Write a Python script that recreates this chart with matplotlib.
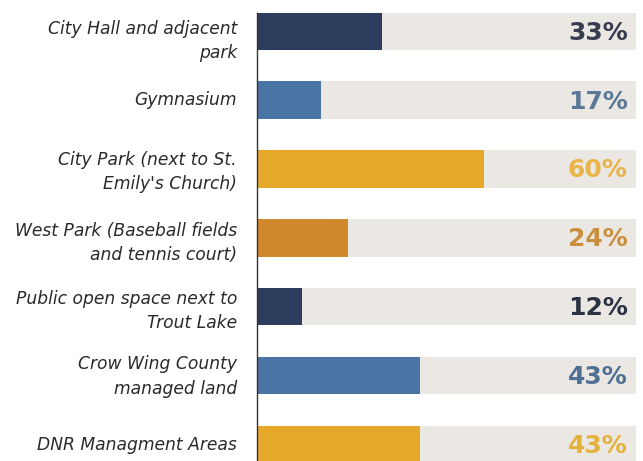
import matplotlib
matplotlib.use("Agg")
import matplotlib.pyplot as plt

categories = [
    "City Hall and adjacent\npark",
    "Gymnasium",
    "City Park (next to St.\nEmily's Church)",
    "West Park (Baseball fields\nand tennis court)",
    "Public open space next to\nTrout Lake",
    "Crow Wing County\nmanaged land",
    "DNR Managment Areas",
]
values = [33, 17, 60, 24, 12, 43, 43]
bar_colors = ["#2c3d5e", "#4a74a3", "#e6a82a", "#d08a2b", "#2c3d5e", "#4a74a3", "#e6a82a"]
label_colors = ["#383e50", "#5b7896", "#e9b548", "#c98f3c", "#2b3244", "#4f6f93", "#e5b23c"]
track_color = "#ebe7e3"
# small downward nudges (in pixels) for the category labels
label_nudge_px = [10, 0, 3, 5, 4, 1, 1]

fig = plt.figure(figsize=(6.43, 4.61), dpi=100)
ax = fig.add_axes([257 / 643, 0, (636 - 257) / 643, 1])

n = len(values)
ys = list(range(n))
h = 0.545
px_per_unit = 68.85

ax.barh(ys, [100] * n, height=h, color=track_color, zorder=1)
ax.barh(ys, values, height=h, color=bar_colors, zorder=2)

ax.set_xlim(0, 100)
ax.set_ylim(6.241, -0.455)

for y, cat, v, c, nd in zip(ys, categories, values, label_colors, label_nudge_px):
    ax.text(-5.3, y + nd / px_per_unit, cat, ha="right", va="center", fontsize=12.3,
            style="italic", family="DejaVu Sans", color="#2a2a2a",
            linespacing=1.45, clip_on=False)
    ax.text(97.8, y + 0.02, f"{v}%", ha="right", va="center", fontsize=18,
            fontweight="bold", family="DejaVu Sans", color=c, zorder=3)

for side in ["top", "right", "bottom"]:
    ax.spines[side].set_visible(False)
ax.spines["left"].set_bounds(-h / 2, 6.241)
ax.spines["left"].set_color("#333333")
ax.spines["left"].set_linewidth(1.0)
ax.spines["left"].set_zorder(4)
ax.set_xticks([])
ax.set_yticks([])

fig.savefig("out.png", dpi=100, facecolor="white")
